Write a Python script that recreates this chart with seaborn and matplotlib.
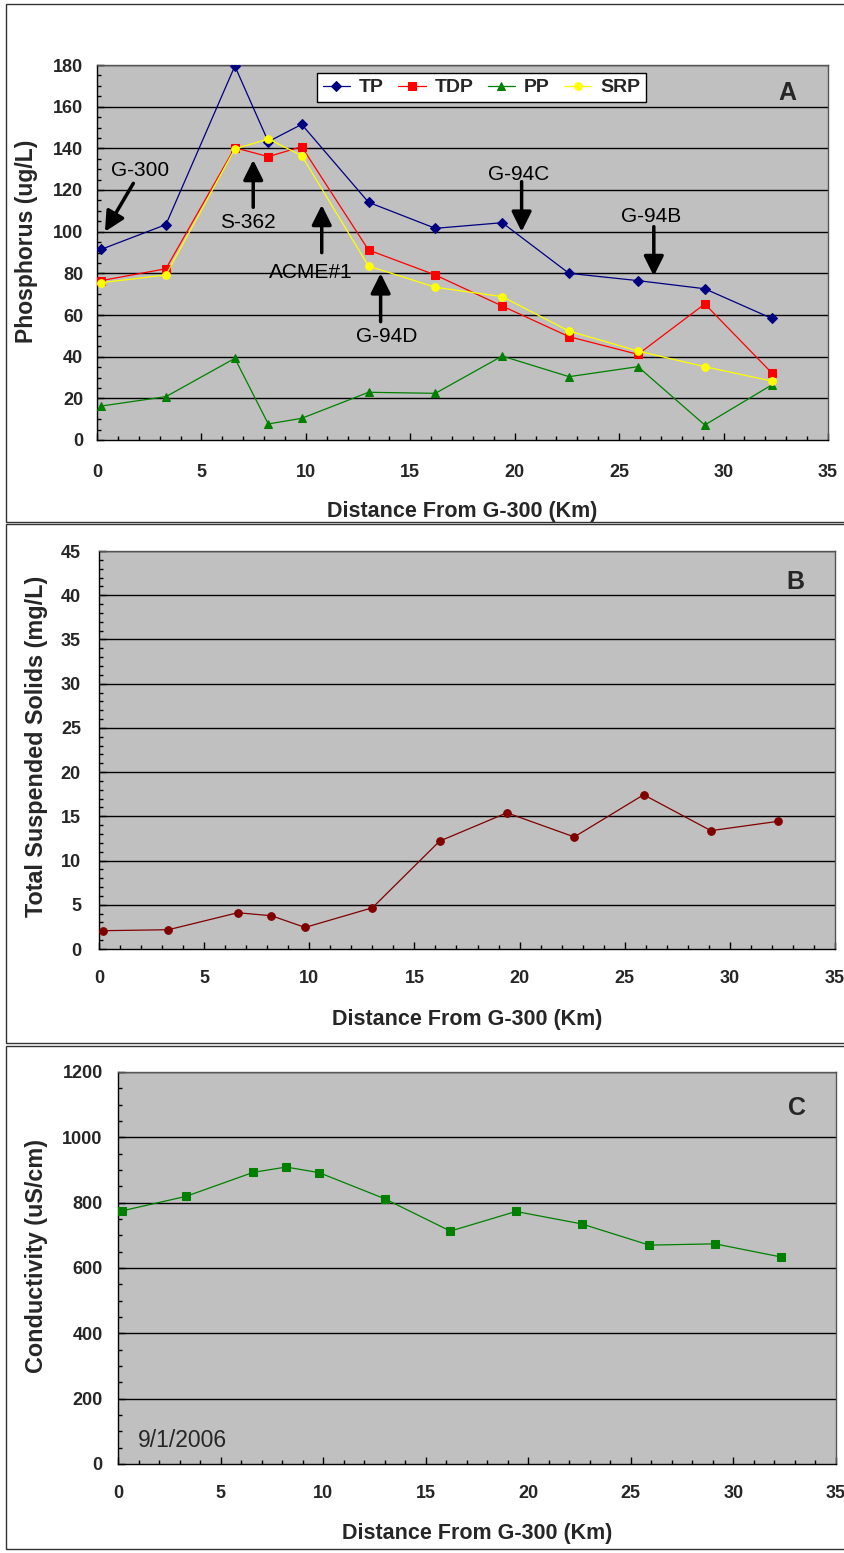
import numpy as np
import pandas as pd
import matplotlib
matplotlib.use("Agg")
import matplotlib.pyplot as plt
import seaborn as sns
from matplotlib.patches import Rectangle
from matplotlib.ticker import MultipleLocator

# ---------------- data ----------------
distance = [0.2, 3.3, 6.6, 8.2, 9.8, 13.0, 16.2, 19.4, 22.6, 25.9, 29.1, 32.3]
tp = [91.5, 103.4, 179.5, 143.2, 151.5, 114.1, 101.6, 104.3, 80.0, 76.5, 72.6, 58.4]
tdp = [76.5, 82.2, 140.3, 136.0, 140.8, 91.2, 79.2, 64.3, 49.6, 41.1, 65.3, 32.3]
pp = [16.3, 20.8, 39.2, 7.7, 10.4, 22.9, 22.4, 40.3, 30.4, 35.2, 7.2, 26.4]
srp = [75.5, 79.2, 139.7, 144.5, 136.5, 83.5, 73.3, 68.8, 52.3, 42.7, 35.2, 28.3]
tss = [2.07, 2.18, 4.10, 3.76, 2.44, 4.66, 12.2, 15.4, 12.67, 17.44, 13.38, 14.44]
conductivity = [775, 819, 893, 909, 892, 812, 713, 773, 735, 670, 674, 634]

series_names = ["TP", "TDP", "PP", "SRP"]
station_labels = ["G-300", "S-362", "ACME#1", "G-94D", "G-94C", "G-94B"]
x_ticks = [0, 5, 10, 15, 20, 25, 30, 35]

# ---------------- style ----------------
sns.set_theme(style="ticks")
plt.rcParams["font.family"] = ["Liberation Sans", "DejaVu Sans"]
plt.rcParams["axes.linewidth"] = 1.0

W, H = 845, 1553
fig = plt.figure(figsize=(W / 100, H / 100), dpi=100)

def fig_rect(left, top, right, bottom):
    return [left / W, 1 - bottom / H, (right - left) / W, (bottom - top) / H]

# panel borders
for (t, b) in [(4, 522), (524, 1043), (1046, 1549)]:
    fig.add_artist(Rectangle((6 / W, 1 - b / H), (860 - 6) / W, (b - t) / H,
                             transform=fig.transFigure, fill=False,
                             edgecolor="#333333", linewidth=1.0))

axA = fig.add_axes(fig_rect(97, 65, 828, 440))
axB = fig.add_axes(fig_rect(99, 551, 835, 949))
axC = fig.add_axes(fig_rect(118, 1072, 836, 1464))

TICK_FS = 13

def style_axes(ax, ymax, ymajor, yminor, ylabel, ylabel_fs, ylabel_xy, xpad, ypad):
    ax.set_facecolor("#C0C0C0")
    ax.set_xlim(0, 35)
    ax.set_ylim(0, ymax)
    ax.xaxis.set_major_locator(MultipleLocator(5))
    ax.xaxis.set_minor_locator(MultipleLocator(1))
    ax.yaxis.set_major_locator(MultipleLocator(ymajor))
    ax.yaxis.set_minor_locator(MultipleLocator(yminor))
    ax.set_xticks(x_ticks)
    ax.set_xticklabels([str(v) for v in x_ticks])
    for yv in np.arange(ymajor, ymax + 0.001, ymajor):
        ax.axhline(yv, color="black", linewidth=1.0, zorder=1)
    ax.tick_params(axis="both", which="major", direction="in", length=5,
                   width=1, labelsize=TICK_FS, color="black")
    ax.tick_params(axis="both", which="minor", direction="in", length=3,
                   width=1, color="black")
    ax.tick_params(axis="x", which="major", pad=xpad)
    ax.tick_params(axis="y", which="major", pad=ypad)
    for lab in ax.get_xticklabels() + ax.get_yticklabels():
        lab.set_fontweight("bold")
    for s in ["top", "right"]:
        ax.spines[s].set_color("#555555")
    for s in ["left", "bottom"]:
        ax.spines[s].set_color("black")
    ax.set_xlabel("Distance From G-300 (Km)", fontsize=15.5, fontweight="bold")
    ax.set_ylabel(ylabel, fontsize=ylabel_fs, fontweight="bold")
    ax.yaxis.set_label_coords(*ylabel_xy)

# ---------------- Panel A ----------------
dfA = pd.DataFrame({"distance": distance * 4,
                    "value": tp + tdp + pp + srp,
                    "series": sum([[n] * len(distance) for n in series_names], [])})
palette = {"TP": "#000080", "TDP": "#FF0000", "PP": "#008000", "SRP": "#FFFF00"}
markers = {"TP": "D", "TDP": "s", "PP": "^", "SRP": "o"}
msizes = {"TP": 5.5, "TDP": 6, "PP": 6, "SRP": 5.5}
for name in series_names:
    sub = dfA[dfA["series"] == name]
    sns.lineplot(data=sub, x="distance", y="value", ax=axA, color=palette[name],
                 marker=markers[name], markersize=msizes[name],
                 markeredgecolor=palette[name], linewidth=0.9, label=name,
                 zorder=3)
style_axes(axA, 180, 20, 5, "Phosphorus (ug/L)", 16.5, (-0.081, 0.53), 17, 10)
axA.xaxis.set_label_coords(0.5, -0.162)

leg = axA.legend(loc="upper left", bbox_to_anchor=(0.301, 0.979), ncol=4,
                 frameon=True, fancybox=False, borderaxespad=0,
                 prop={"weight": "bold", "size": 14}, handlelength=1.4,
                 columnspacing=0.75, handletextpad=0.45, borderpad=0.3)
leg.get_frame().set_edgecolor("black")
leg.get_frame().set_linewidth(1.0)
leg.get_frame().set_facecolor("white")
leg.get_frame().set_alpha(1)

# station arrows: (label, text xy, arrow tail, arrow head)
ann = [
    ("G-300", (2.06, 129.6), (1.74, 123.2), (0.38, 100.0)),
    ("S-362", (7.24, 104.3), (7.48, 111.7), (7.48, 134.4)),
    ("ACME#1", (10.23, 80.3), (10.76, 89.9), (10.76, 112.8)),
    ("G-94D", (13.87, 49.9), (13.58, 56.8), (13.58, 80.0)),
    ("G-94C", (20.2, 127.2), (20.33, 124.0), (20.33, 100.0)),
    ("G-94B", (26.55, 107.2), (26.66, 102.4), (26.66, 78.7)),
]
for lab, txy, tail, head in ann:
    axA.text(txy[0], txy[1], lab, fontsize=15, ha="center", va="center",
             color="black", zorder=6)
    axA.annotate("", xy=head, xytext=tail,
                 arrowprops=dict(arrowstyle="-|>,head_length=0.6,head_width=0.3",
                                 color="black", lw=2.5, mutation_scale=20,
                                 shrinkA=0, shrinkB=0), zorder=6)
axA.text(33.06, 166.4, "A", fontsize=18, fontweight="bold", ha="center", va="center")

# ---------------- Panel B ----------------
dfB = pd.DataFrame({"distance": distance, "tss": tss})
sns.lineplot(data=dfB, x="distance", y="tss", ax=axB, color="#800000",
             marker="o", markersize=5.5, markeredgecolor="#800000",
             linewidth=0.9, zorder=3)
style_axes(axB, 45, 5, 1, "Total Suspended Solids (mg/L)", 16.8, (-0.069, 0.51), 15, 13)
axB.xaxis.set_label_coords(0.5, -0.151)
axB.text(33.1, 41.5, "B", fontsize=18, fontweight="bold", ha="center", va="center")

# ---------------- Panel C ----------------
dfC = pd.DataFrame({"distance": distance, "cond": conductivity})
sns.lineplot(data=dfC, x="distance", y="cond", ax=axC, color="#008000",
             marker="s", markersize=5.5, markeredgecolor="#008000",
             linewidth=0.9, zorder=3)
style_axes(axC, 1200, 200, 50, "Conductivity (uS/cm)", 16.8, (-0.0975, 0.53), 15, 11)
axC.xaxis.set_label_coords(0.5, -0.151)
axC.text(33.1, 1090, "C", fontsize=18, fontweight="bold", ha="center", va="center")
axC.text(0.95, 73, "9/1/2006", fontsize=16.5, ha="left", va="center")

fig.savefig("out.png", dpi=100)
